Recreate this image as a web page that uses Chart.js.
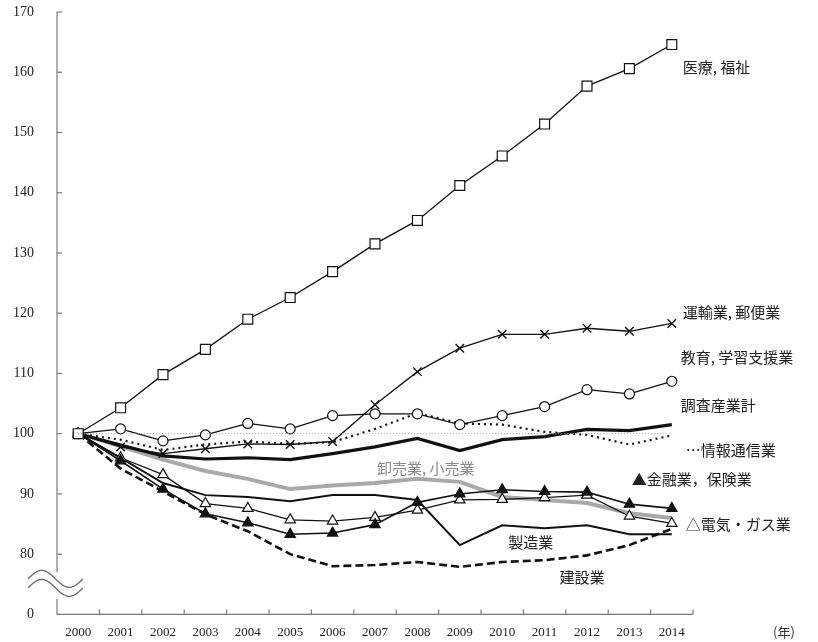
<!DOCTYPE html>
<html>
<head>
<meta charset="utf-8">
<script src="https://cdn.jsdelivr.net/npm/chart.js@4.4.0/dist/chart.umd.min.js"></script>
<style>
  body { margin: 0; background: #fff; }
  canvas { display: block; }
</style>
</head>
<body>
<canvas id="myChart" width="818" height="642"></canvas>
<script>
const years = ['2000', '2001', '2002', '2003', '2004', '2005', '2006', '2007', '2008', '2009', '2010', '2011', '2012', '2013', '2014'];
const yTicks = [70, 80, 90, 100, 110, 120, 130, 140, 150, 160, 170];

// 2000 = 100
const iryo     = [100, 104.3, 109.8, 114.0, 119.0, 122.6, 126.9, 131.5, 135.4, 141.2, 146.1, 151.4, 157.7, 160.6, 164.6];
const unyu     = [100, 97.8, 96.7, 97.5, 98.3, 98.2, 98.7, 104.8, 110.3, 114.2, 116.5, 116.5, 117.5, 117.0, 118.3];
const kyoiku   = [100, 100.8, 98.8, 99.8, 101.7, 100.8, 103.0, 103.3, 103.3, 101.5, 103.0, 104.5, 107.3, 106.6, 108.7];
const chosa    = [100, 98.1, 96.3, 95.8, 96.0, 95.7, 96.7, 97.8, 99.2, 97.2, 99.0, 99.5, 100.7, 100.5, 101.5];
const joho     = [100, 99.0, 97.3, 98.2, 98.7, 98.3, 98.6, 100.8, 103.4, 101.7, 101.5, 100.3, 99.8, 98.2, 99.7];
const oroshi   = [100, 97.9, 95.7, 93.8, 92.5, 90.8, 91.4, 91.8, 92.5, 92.0, 89.5, 89.0, 88.5, 86.8, 86.0];
const kinyu    = [100, 95.5, 90.8, 86.7, 85.2, 83.3, 83.5, 84.9, 88.6, 90.0, 90.7, 90.4, 90.3, 88.3, 87.6];
const denki    = [100, 96.0, 93.2, 88.4, 87.6, 85.7, 85.5, 86.1, 87.3, 89.0, 89.1, 89.4, 89.8, 86.3, 85.1];
const seizo    = [100, 96.0, 91.8, 89.8, 89.5, 88.8, 89.8, 89.8, 89.0, 81.5, 84.8, 84.3, 84.8, 83.3, 83.3];
const kensetsu = [100, 94.2, 90.4, 86.6, 83.8, 80.0, 78.0, 78.2, 78.7, 77.9, 78.7, 79.0, 79.8, 81.5, 84.2];

const labels = [
  { text: '医療, 福祉',       i: 14, v: 160.8, dx: 11 },
  { text: '運輸業, 郵便業',   i: 14, v: 120.1, dx: 11 },
  { text: '教育, 学習支援業', i: 14, v: 112.6, dx: 9 },
  { text: '調査産業計',       i: 14, v: 104.7, dx: 9 },
  { text: '⋯情報通信業',      i: 14, v: 97.2,  dx: 14 },
  { text: '▲金融業，保険業',  i: 14, v: 92.5,  dx: -40 },
  { text: '△電気・ガス業',    i: 14, v: 85.0,  dx: 14 },
  { text: '卸売業, 小売業',   i: 7,  v: 94.2,  dx: 2, color: '#8a8a8a' },
  { text: '製造業',           i: 10, v: 82.0,  dx: 6 },
  { text: '建設業',           i: 11, v: 76.2,  dx: 15 }
];

const jpFont = '"Noto Sans CJK JP", sans-serif';
const numFont = '"Liberation Serif", "DejaVu Serif", serif';

const drawExtras = {
  id: 'drawExtras',
  afterDatasetsDraw(chart) {
    const c = chart.ctx;
    const xs = chart.scales.x;
    const ys = chart.scales.y;
    const area = chart.chartArea;
    c.save();

    // reference line at 100
    c.strokeStyle = '#9a9a9a';
    c.lineWidth = 1;
    c.setLineDash([1, 2]);
    c.beginPath();
    c.moveTo(xs.getPixelForValue(0), ys.getPixelForValue(100));
    c.lineTo(xs.getPixelForValue(14), ys.getPixelForValue(100));
    c.stroke();
    c.setLineDash([]);

    // axes
    c.strokeStyle = '#7a7a7a';
    c.lineWidth = 1.2;
    const breakTop = ys.getPixelForValue(77.0);
    const breakBot = ys.getPixelForValue(72.6);
    c.beginPath();
    c.moveTo(area.left, area.top);
    c.lineTo(area.left, breakTop);
    c.moveTo(area.left, breakBot);
    c.lineTo(area.left, area.bottom);
    c.lineTo(area.right, area.bottom);
    c.stroke();

    // y ticks inward
    yTicks.forEach(t => {
      if (t === 70) return;
      const y = ys.getPixelForValue(t);
      c.beginPath();
      c.moveTo(area.left, y);
      c.lineTo(area.left + 5, y);
      c.stroke();
    });
    // x ticks between categories, pointing up
    for (let i = 0; i < years.length; i++) {
      const x = i < years.length - 1
        ? (xs.getPixelForValue(i) + xs.getPixelForValue(i + 1)) / 2
        : area.right;
      c.beginPath();
      c.moveTo(x, area.bottom);
      c.lineTo(x, area.bottom - 5);
      c.stroke();
    }

    // axis break waves
    c.strokeStyle = '#6a6a6a';
    c.lineWidth = 1.3;
    [75.9, 74.4].forEach(v => {
      const yc = ys.getPixelForValue(v);
      const x0 = area.left - 29, w = 55;
      c.beginPath();
      for (let k = 0; k <= 40; k++) {
        const t = k / 40;
        const x = x0 + w * t;
        const y = yc - 8.5 * Math.cos(2 * Math.PI * (t - 0.25));
        if (k === 0) c.moveTo(x, y); else c.lineTo(x, y);
      }
      c.stroke();
    });

    // series labels
    c.font = '15px ' + jpFont;
    c.textBaseline = 'middle';
    c.textAlign = 'left';
    labels.forEach(l => {
      c.fillStyle = l.color || '#222';
      c.fillText(l.text, xs.getPixelForValue(l.i) + l.dx, ys.getPixelForValue(l.v));
    });

    // unit
    c.font = '13px ' + jpFont;
    c.fillStyle = '#333';
    c.fillText('(年)', area.right + 80, area.bottom + 18);
    c.restore();
  }
};

const mk = (label, data, opts) => Object.assign({
  label: label,
  data: data,
  borderColor: '#111',
  backgroundColor: '#fff',
  borderWidth: 1.3,
  pointRadius: 0,
  pointBorderColor: '#111',
  pointBackgroundColor: '#fff',
  pointBorderWidth: 1.2,
  tension: 0
}, opts);

const ctx = document.getElementById('myChart').getContext('2d');
const myChart = new Chart(ctx, {
  type: 'line',
  data: {
    labels: years,
    datasets: [
      mk('医療, 福祉', iryo, { pointStyle: 'rect', pointRadius: 7 }),
      mk('運輸業, 郵便業', unyu, { pointStyle: 'crossRot', pointRadius: 6, pointBorderWidth: 1.4 }),
      mk('教育, 学習支援業', kyoiku, { pointStyle: 'circle', pointRadius: 5 }),
      mk('金融業, 保険業', kinyu, { pointStyle: 'triangle', pointRadius: 6, pointBackgroundColor: '#111', borderWidth: 1.6 }),
      mk('電気・ガス業', denki, { pointStyle: 'triangle', pointRadius: 6 }),
      mk('調査産業計', chosa, { borderWidth: 3.2 }),
      mk('情報通信業', joho, { borderWidth: 2.2, borderDash: [2, 4] }),
      mk('製造業', seizo, { borderWidth: 2 }),
      mk('建設業', kensetsu, { borderWidth: 2.6, borderDash: [8, 4] }),
      mk('卸売業, 小売業', oroshi, { borderColor: '#a9a9a9', borderWidth: 4 })
    ]
  },
  options: {
    responsive: false,
    animation: false,
    layout: { autoPadding: false, padding: { left: -10, right: 125, top: 12, bottom: -8 } },
    plugins: { legend: { display: false }, tooltip: { enabled: false } },
    scales: {
      x: {
        offset: true,
        grid: { display: false, drawTicks: false },
        border: { display: false },
        ticks: { color: '#222', font: { family: numFont, size: 13 }, padding: 10, maxRotation: 0, autoSkip: false },
        afterFit: s => { s.paddingLeft = 0; s.paddingRight = 0; }
      },
      y: {
        min: 70,
        max: 170,
        grid: { display: false, drawTicks: false },
        border: { display: false },
        ticks: {
          stepSize: 10,
          color: '#222',
          font: { family: numFont, size: 14 },
          padding: 23,
          callback: v => (v === 70 ? '0' : v)
        },
        afterFit: s => { s.paddingTop = 0; s.paddingBottom = 0; }
      }
    }
  },
  plugins: [drawExtras]
});
</script>
</body>
</html>
